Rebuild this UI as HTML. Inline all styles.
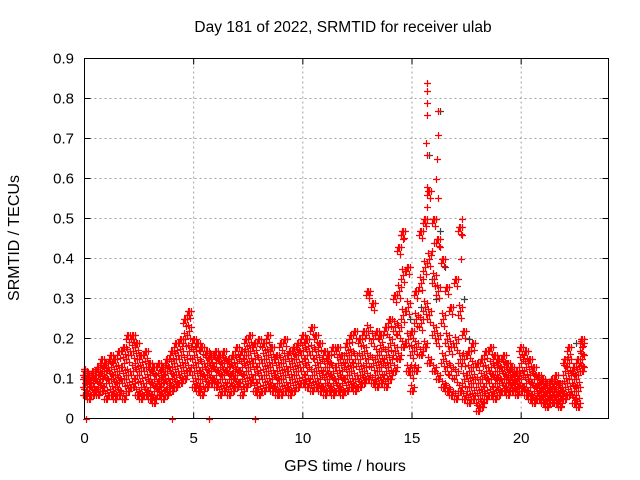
<!DOCTYPE html>
<html><head><meta charset="utf-8"><style>
body{margin:0;background:#fff}
svg{display:block;font-family:"Liberation Sans",sans-serif}
</style></head><body>
<svg id="c" width="640" height="480">
<rect x="0" y="0" width="640" height="480" fill="#fff"/>
<text x="343" y="32" font-size="15.5" text-anchor="middle">Day 181 of 2022, SRMTID for receiver ulab</text>
<text x="345" y="471" font-size="16" text-anchor="middle">GPS time / hours</text>
<text transform="translate(19,238) rotate(-90)" font-size="16" text-anchor="middle">SRMTID / TECUs</text>
<g id="grid"></g><g id="ticks"></g><g id="gray"></g><g id="red"></g>
<rect x="84.5" y="58.5" width="524" height="360" fill="none" stroke="#000"/>
</svg>
<script>
const times=[0,0.2,0.4,0.6,0.8,1,1.2,1.4,1.6,1.8,2,2.2,2.4,2.6,2.8,3,3.2,3.4,3.6,3.8,4,4.2,4.4,4.6,4.8,5,5.2,5.4,5.6,5.8,6,6.2,6.4,6.6,6.8,7,7.2,7.4,7.6,7.8,8,8.2,8.4,8.6,8.8,9,9.2,9.4,9.6,9.8,10,10.2,10.4,10.6,10.8,11,11.2,11.4,11.6,11.8,12,12.2,12.4,12.6,12.8,13,13.2,13.4,13.6,13.8,14,14.2,14.4,14.6,14.8,15,15.2,15.4,15.6,15.8,16,16.2,16.4,16.6,16.8,17,17.2,17.4,17.6,17.8,18,18.2,18.4,18.6,18.8,19,19.2,19.4,19.6,19.8,20,20.2,20.4,20.6,20.8,21,21.2,21.4,21.6,21.8,22,22.2,22.4,22.6,22.8];
const lowVals=[.06,.05,.06,.06,.07,.05,.06,.05,.06,.05,.07,.08,.06,.05,.06,.05,.04,.06,.05,.06,.07,.08,.09,.10,.12,.08,.07,.06,.08,.09,.08,.06,.07,.06,.07,.08,.06,.08,.09,.07,.06,.07,.08,.07,.06,.06,.07,.06,.07,.08,.09,.08,.07,.08,.07,.06,.07,.06,.07,.06,.07,.08,.07,.08,.09,.10,.09,.08,.09,.08,.10,.12,.15,.18,.12,.07,.12,.16,.18,.14,.12,.10,.08,.07,.06,.05,.07,.05,.04,.05,.02,.03,.05,.06,.05,.06,.07,.06,.07,.06,.07,.06,.05,.04,.05,.04,.03,.04,.04,.03,.05,.06,.04,.03,.12];
const midVals1=[.09,.08,.09,.08,.10,.09,.10,.08,.09,.10,.11,.12,.11,.08,.09,.08,.07,.08,.09,.08,.10,.11,.12,.14,.17,.12,.10,.10,.11,.12,.11,.10,.11,.10,.10,.11,.10,.12,.13,.11,.10,.11,.12,.10,.09,.10,.11,.09,.11,.12,.13,.12,.11,.12,.10,.09,.10,.09,.10,.09,.11,.12,.10,.11,.12,.15,.14,.12,.13,.12,.14,.17,.22,.26,.20,.12,.18,.24,.28,.26,.22,.20,.15,.13,.12,.11,.15,.10,.08,.09,.05,.06,.09,.10,.09,.09,.10,.09,.09,.08,.10,.09,.08,.07,.07,.06,.05,.06,.06,.05,.08,.10,.07,.07,.15];
const midVals2=[.11,.10,.10,.11,.12,.12,.13,.11,.12,.14,.16,.17,.15,.12,.13,.11,.10,.10,.11,.12,.13,.15,.16,.20,.22,.16,.14,.13,.14,.15,.14,.13,.14,.13,.12,.14,.13,.16,.17,.15,.14,.15,.16,.14,.12,.14,.15,.13,.15,.16,.17,.16,.17,.16,.14,.13,.13,.12,.14,.12,.15,.16,.15,.15,.17,.22,.20,.16,.17,.16,.19,.23,.32,.36,.28,.17,.25,.34,.38,.40,.35,.32,.25,.20,.18,.19,.27,.15,.12,.13,.09,.10,.12,.13,.12,.12,.13,.11,.11,.10,.14,.13,.11,.10,.09,.08,.07,.08,.08,.07,.12,.14,.10,.11,.18];
const highVals=[.12,.11,.12,.13,.15,.14,.16,.15,.17,.18,.21,.21,.19,.16,.17,.14,.13,.14,.13,.15,.17,.19,.20,.25,.27,.20,.19,.18,.17,.16,.17,.16,.17,.15,.16,.18,.17,.20,.21,.19,.20,.19,.21,.18,.16,.19,.20,.17,.18,.19,.21,.20,.23,.21,.19,.17,.16,.18,.18,.16,.19,.21,.22,.20,.22,.32,.29,.22,.21,.23,.25,.31,.43,.47,.38,.22,.32,.47,.50,.57,.50,.45,.40,.33,.28,.35,.48,.22,.17,.19,.14,.15,.17,.18,.16,.15,.16,.14,.13,.12,.18,.17,.15,.13,.11,.10,.09,.10,.11,.09,.15,.18,.13,.15,.20];
const extraTimes=[15.7,15.7,15.7,15.7,15.65,15.7,15.7,16.2,16.2,16.15,16.2,16.1,15.7,15.6,16.1,17.3,17.3,14.5,14.6,16.0,15.9,16.3,0.05,4.0,5.7,7.8,0.0,2.2,4.8,13.05,17.25];
const extraVals=[.84,.82,.79,.76,.69,.66,.58,.77,.71,.65,.55,.60,.53,.49,.50,.50,.46,.46,.45,.44,.42,.43,0,0,0,0,.125,.20,.26,.31,.40];
const grayTimes=[16.3,15.8,16.3,15.9,16.1,17.4,22.5,8.5,15.4,16.5,14.9,17.6];
const grayVals=[.77,.66,.47,.35,.30,.30,.19,.18,.28,.38,.25,.2];
const xTicks=[0,5,10,15,20];
const yTicks=[0,0.1,0.2,0.3,0.4,0.5,0.6,0.7,0.8,0.9];
const X0=84.5,X1=608.5,Y0=418.5,Y1=58.5;
function sx(t){return X0+(t/24)*(X1-X0);}
function sy(v){return Y0-(v/0.9)*(Y0-Y1);}
const NS="http://www.w3.org/2000/svg";
function mk(tag,attrs,parent){const e=document.createElementNS(NS,tag);for(const k in attrs)e.setAttribute(k,attrs[k]);parent.appendChild(e);return e;}
const grid=document.getElementById('grid'),ticks=document.getElementById('ticks');
yTicks.forEach(v=>{const y=sy(v);
 if(v>0&&v<0.9){const g=mk('line',{x1:X0,x2:X1,y1:y,y2:y,stroke:'#a0a0a0','stroke-dasharray':'2,3'},grid);
 
 }
 mk('line',{x1:X0,x2:X0+6,y1:y,y2:y,stroke:'#000'},ticks);
 mk('line',{x1:X1,x2:X1-6,y1:y,y2:y,stroke:'#000'},ticks);
 const t=mk('text',{x:74,y:y+5,'font-size':15,'text-anchor':'end'},ticks);t.textContent=v===0?'0':v.toFixed(1);
 
 
});
xTicks.forEach(v=>{const x=sx(v);
 if(v>0){const g=mk('line',{x1:x,x2:x,y1:Y0,y2:Y1,stroke:'#a0a0a0','stroke-dasharray':'2,3'},grid);
 
 }
 mk('line',{x1:x,x2:x,y1:Y0,y2:Y0-6,stroke:'#000'},ticks);
 mk('line',{x1:x,x2:x,y1:Y1,y2:Y1+6,stroke:'#000'},ticks);
 const t=mk('text',{x:x,y:443,'font-size':15,'text-anchor':'middle'},ticks);t.textContent=String(v);
 
 
});
function plus(x,y,col,parent,name){x=Math.round(x)+0.5;y=Math.round(y)+0.5;
 const p=mk('path',{d:`M${x-3.5} ${y}H${x+3.5}M${x} ${y-3.5}V${y+3.5}`,stroke:col,'stroke-width':1.2,fill:'none'},parent);
 
 }
const gray=document.getElementById('gray'),red=document.getElementById('red');
grayTimes.forEach((t,i)=>plus(sx(t),sy(grayVals[i]),'#404040',gray,'gray-point'));
// each sample drawn as a small cluster of crosses to mimic the dense raw cloud
const cl=[[0,0],[-2,4],[2,-4],[1,7],[-1,-6]];
[lowVals,midVals1,midVals2,highVals].forEach((arr,k)=>times.forEach((t,i)=>{
  const x=sx(t),y=sy(arr[i]);
  cl.forEach(([dx,dy],j)=>{
    const yy=(k===0&&dy>0)||(k===3&&dy<0)?y:y+dy;
    if(yy<=Y0) plus(x+dx,yy,'#ff0000',red,'red-point');
  });
}));
extraTimes.forEach((t,i)=>plus(sx(t),sy(extraVals[i]),'#ff0000',red,'red-point'));
</script>
</body></html>
